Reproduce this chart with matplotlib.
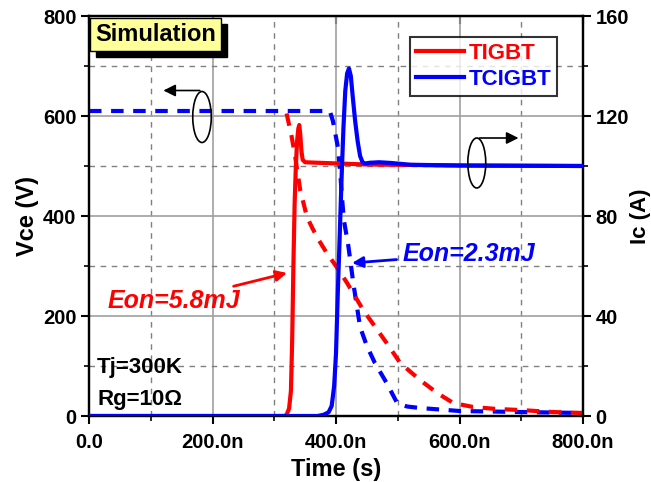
import numpy as np
import matplotlib
matplotlib.use("Agg")
import matplotlib.pyplot as plt
from matplotlib.patches import Ellipse, Rectangle
from matplotlib.ticker import MultipleLocator
from matplotlib.transforms import IdentityTransform

plt.rcParams["font.family"] = ["Liberation Sans", "DejaVu Sans"]
plt.rcParams["font.weight"] = "bold"

# ============================================================
# DATA (time in ns)
# ============================================================

# Vce (left axis), dashed
t_vce_tcigbt = [0, 390, 395, 403, 406.5, 410, 413, 420, 428, 439, 450, 463, 482, 499, 515, 536, 600, 698, 800]
vce_tcigbt = [610, 610, 590, 538, 492, 432, 390, 340, 266, 178, 140, 106, 66, 26, 19, 16, 10, 8, 6]

t_vce_tigbt = [320, 328, 334, 342, 353, 362, 372, 385, 400, 418, 444, 482, 504, 536, 565, 590, 622, 660, 698, 750, 800]
vce_tigbt = [605, 560, 518, 452, 398, 375, 352, 326, 300, 266, 212, 146, 106, 72, 45, 26, 18, 14, 12, 8, 6]

# Ic (right axis), solid
t_ic_tigbt = [0, 316, 320, 324, 327, 329, 331, 333, 335, 337, 339, 340.5, 342, 344, 346, 350, 370, 450, 600, 800]
ic_tigbt = [0, 0, 0.5, 3, 10, 30, 60, 85, 100, 110, 115, 116.4, 113, 106, 102.5, 101.5, 101.3, 100.6, 100.2, 100]

t_ic_tcigbt = [0, 370, 380, 388, 393, 397, 400, 403, 406, 409, 412, 415, 418, 421, 424, 427, 431, 435, 439,
               443, 447, 455, 470, 490, 520, 600, 800]
ic_tcigbt = [0, 0, 0.5, 1.5, 4, 12, 25, 50, 72, 95, 115, 130, 137, 139, 136, 128, 118, 110, 104,
             101.5, 101, 101.3, 101.5, 101.2, 100.5, 100.2, 100]

x_ticks = [0, 200, 400, 600, 800]
x_tick_labels = ["0.0", "200.0n", "400.0n", "600.0n", "800.0n"]
y_ticks = [0, 200, 400, 600, 800]
y2_ticks = [0, 40, 80, 120, 160]

RED = "#ff0000"
BLUE = "#0000ff"

# ============================================================
# FIGURE
# ============================================================

fig = plt.figure(figsize=(6.51, 4.82), dpi=100)
ax = fig.add_axes([89 / 651, 1 - 416 / 482, 494 / 651, 400 / 482])
ax2 = ax.twinx()

ax.set_xlim(0, 800)
ax.set_ylim(0, 800)
ax2.set_ylim(0, 160)

# grid
ax.set_axisbelow(True)
ax.xaxis.set_minor_locator(MultipleLocator(100))
ax.yaxis.set_minor_locator(MultipleLocator(100))
ax2.yaxis.set_minor_locator(MultipleLocator(20))
ax.grid(which="major", color="#a0a0a0", linestyle="-", linewidth=1.2)
ax.grid(which="minor", color="#808080", linestyle=(0, (4, 4)), linewidth=1.0)

dash = (0, (3, 2.3))
ax.plot(t_vce_tcigbt, vce_tcigbt, color=BLUE, lw=3, linestyle=dash, zorder=3)
ax.plot(t_vce_tigbt, vce_tigbt, color=RED, lw=3, linestyle=dash, zorder=4)

l1, = ax2.plot(t_ic_tigbt, ic_tigbt, color=RED, lw=3, label="TIGBT", zorder=3)
l2, = ax2.plot(t_ic_tcigbt, ic_tcigbt, color=BLUE, lw=3, label="TCIGBT", zorder=4)

# ticks
ax.set_xticks(x_ticks)
ax.set_xticklabels(x_tick_labels)
ax.set_yticks(y_ticks)
ax2.set_yticks(y2_ticks)
for a in (ax, ax2):
    a.tick_params(which="major", direction="out", length=6, width=1.5, labelsize=14.5, pad=3)
    a.tick_params(which="minor", direction="out", length=3.5, width=1.2)
    for s in a.spines.values():
        s.set_linewidth(1.6)
ax.tick_params(axis="x", which="major", pad=6.5)

top = ax.secondary_xaxis("top")
top.set_xticks(x_ticks)
top.tick_params(direction="in", length=6, width=1.5, labeltop=False)

ax.set_xlabel("Time (s)", fontsize=17, fontweight="bold", labelpad=4)
ax.set_ylabel("Vce (V)", fontsize=17, fontweight="bold", labelpad=3)
ax2.set_ylabel("Ic (A)", fontsize=16, fontweight="bold", labelpad=1)

# legend
leg = ax2.legend(handles=[l1, l2], loc="upper left", bbox_to_anchor=(410 / 651, 1 - 37 / 482),
                 bbox_transform=fig.transFigure, fontsize=16, frameon=True, fancybox=False,
                 edgecolor="black", handlelength=2.2, handletextpad=0.2, borderpad=0.25,
                 labelspacing=0.25, borderaxespad=0)
leg.get_frame().set_linewidth(1.5)
for txt, c in zip(leg.get_texts(), [RED, BLUE]):
    txt.set_color(c)

# "Simulation" box with a black drop shadow
sim = ax2.text(0.012, 0.983, "Simulation", transform=ax2.transAxes, fontsize=17, fontweight="bold",
               ha="left", va="top", color="black",
               bbox=dict(boxstyle="square,pad=0.2", facecolor="#ffff99", edgecolor="black", linewidth=1),
               zorder=9)
fig.canvas.draw()
bb = sim.get_bbox_patch().get_window_extent()
ax2.add_patch(Rectangle((bb.x0 + 6, bb.y0 - 6), bb.width, bb.height, transform=IdentityTransform(),
                        facecolor="black", edgecolor="black", zorder=8, clip_on=False))

# ellipses with arrows
ax2.add_patch(Ellipse((183, 119.6), 30, 20.4, fill=False, edgecolor="black", lw=1.2, zorder=6))
ax2.annotate("", xy=(116, 130.2), xytext=(184, 130.2),
             arrowprops=dict(arrowstyle="-|>", color="black", lw=1.2, mutation_scale=18), zorder=6)
ax2.add_patch(Ellipse((628, 101.2), 29, 20, fill=False, edgecolor="black", lw=1.2, zorder=6))
ax2.annotate("", xy=(700, 111.2), xytext=(628, 111.2),
             arrowprops=dict(arrowstyle="-|>", color="black", lw=1.2, mutation_scale=18), zorder=6)

# Eon labels
ax2.annotate("Eon=5.8mJ", xy=(320.6, 57.2), xytext=(245, 46), color=RED, fontsize=18,
             fontweight="bold", fontstyle="italic", ha="right", va="center",
             arrowprops=dict(arrowstyle="-|>", color=RED, lw=2, mutation_scale=16,
                             shrinkA=0, shrinkB=0), zorder=7)
ax2.annotate("Eon=2.3mJ", xy=(426, 61.2), xytext=(507, 64.8), color=BLUE, fontsize=18,
             fontweight="bold", fontstyle="italic", ha="left", va="center",
             arrowprops=dict(arrowstyle="-|>", color=BLUE, lw=2, mutation_scale=16,
                             shrinkA=2, shrinkB=0), zorder=7)

ax2.text(13, 19.6, "Tj=300K", fontsize=16, fontweight="bold", ha="left", va="center", zorder=7)
ax2.text(13, 6.8, "Rg=10\u03a9", fontsize=16, fontweight="bold", ha="left", va="center", zorder=7)

fig.savefig("out.png", dpi=100)
